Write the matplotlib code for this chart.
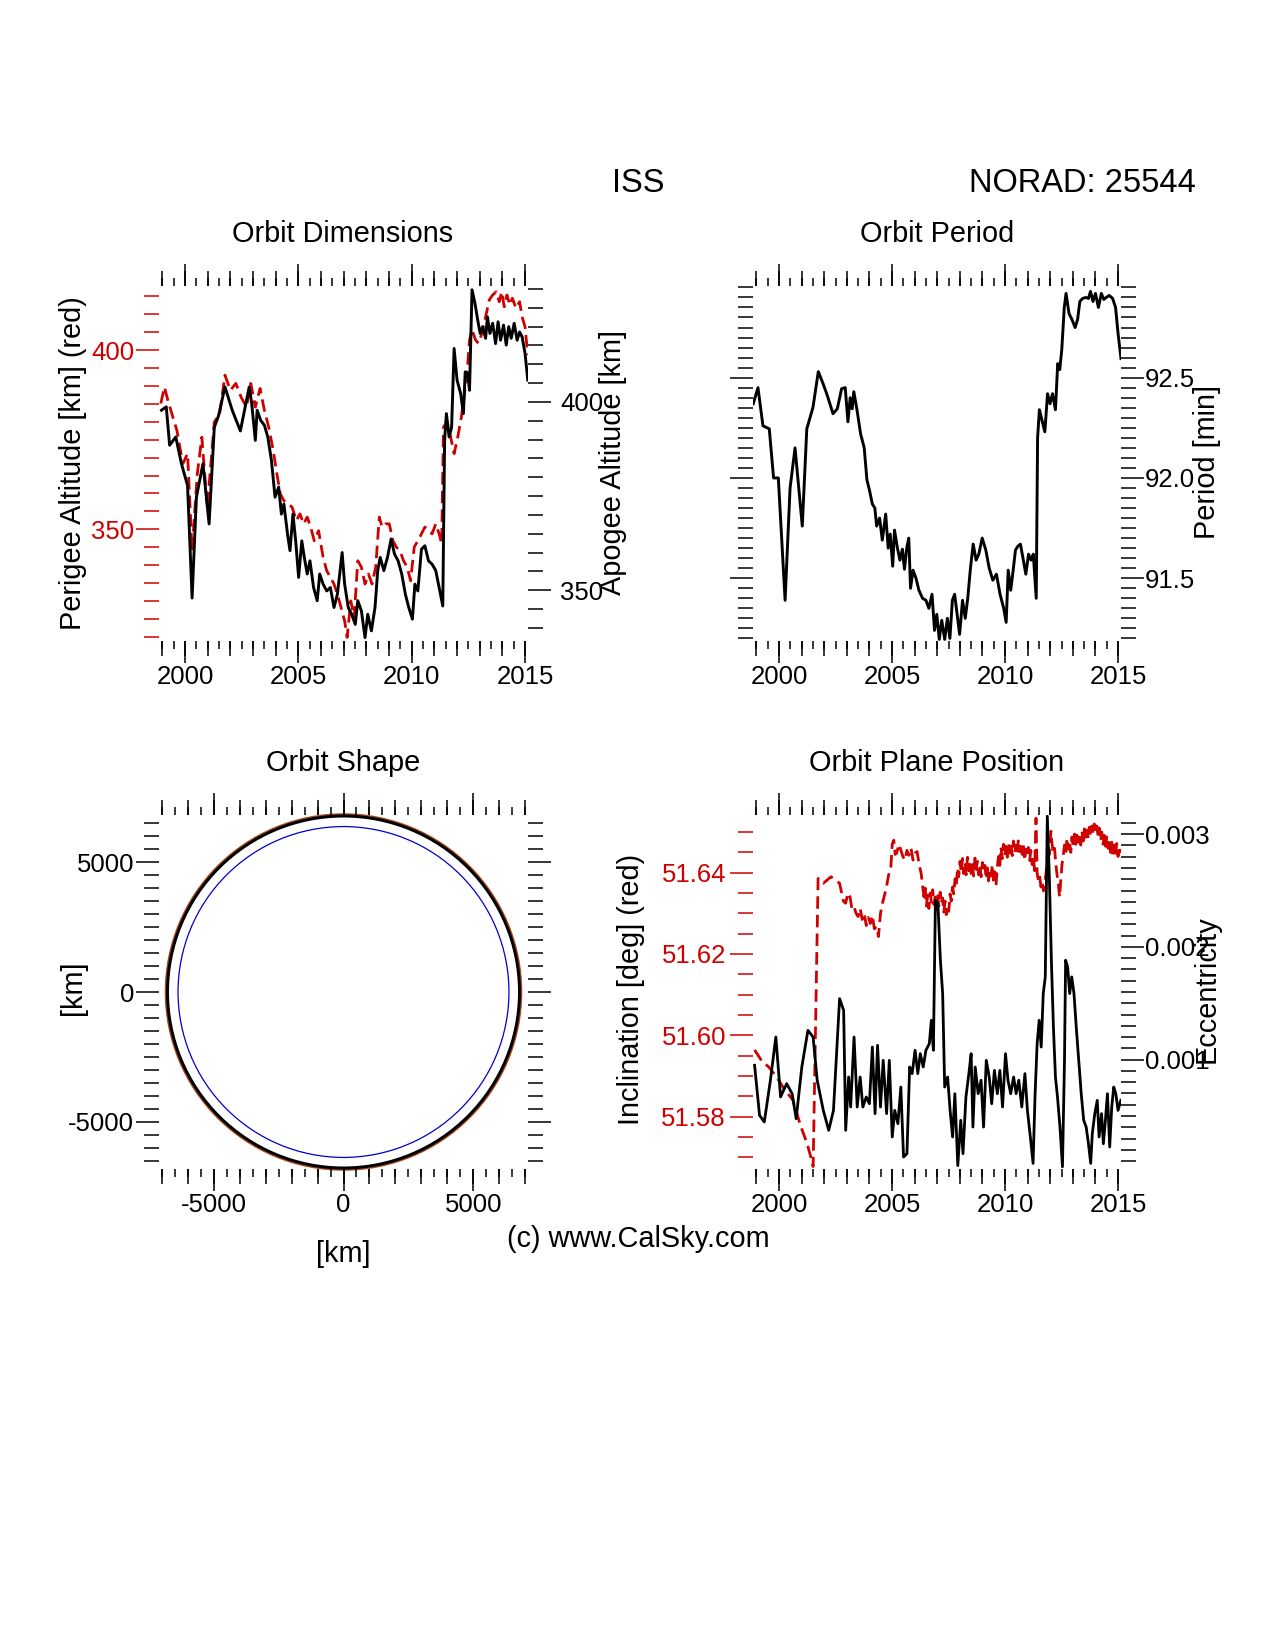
import matplotlib
matplotlib.use('Agg')
import matplotlib.pyplot as plt
from matplotlib.ticker import MultipleLocator, FormatStrFormatter, NullFormatter
from matplotlib.patches import Circle

plt.rcParams['font.family'] = ['Liberation Sans', 'DejaVu Sans']

RED = '#d00000'

# ---- orbit dimensions: (year, km)
perigee = [(1998.93, 385.1), (1999.09, 389.7), (1999.24, 386.0), (1999.48, 380.9), (1999.64, 377.6),
           (1999.90, 368.3), (2000.11, 371.1), (2000.31, 344.0), (2000.54, 365.5), (2000.74, 375.7),
           (2000.98, 356.2), (2001.29, 379.9), (2001.53, 382.3), (2001.76, 393.0), (2002.00, 388.8),
           (2002.24, 390.7), (2002.47, 386.9), (2002.71, 384.1), (2002.90, 390.7), (2003.10, 384.1),
           (2003.31, 389.3), (2003.50, 383.2), (2003.69, 378.5), (2003.89, 372.0), (2004.05, 365.5),
           (2004.20, 359.9), (2004.36, 358.0), (2004.52, 357.1), (2004.72, 356.2), (2004.91, 352.4),
           (2005.07, 354.3), (2005.23, 351.5), (2005.39, 353.4), (2005.54, 350.6), (2005.70, 346.8),
           (2005.89, 349.6), (2006.09, 342.2), (2006.25, 338.4), (2006.41, 336.6), (2006.57, 334.7),
           (2006.72, 331.9), (2006.88, 328.2), (2007.04, 324.4), (2007.15, 319.8), (2007.31, 330.0),
           (2007.46, 325.4), (2007.62, 341.2), (2007.78, 339.4), (2007.94, 334.7), (2008.09, 337.5),
           (2008.25, 334.7), (2008.41, 339.4), (2008.57, 353.4), (2008.69, 350.6), (2008.85, 351.5),
           (2009.01, 351.5), (2009.17, 346.8), (2009.32, 345.0), (2009.48, 344.0), (2009.64, 341.2),
           (2009.80, 339.4), (2009.95, 335.6), (2010.11, 345.0), (2010.27, 346.8), (2010.43, 348.7),
           (2010.58, 350.6), (2010.74, 349.6), (2010.90, 348.7), (2011.06, 351.5), (2011.21, 348.7),
           (2011.32, 345.9), (2011.40, 378.5), (2011.56, 379.9), (2011.72, 375.7), (2011.87, 371.1),
           (2012.03, 375.7), (2012.19, 381.3), (2012.31, 386.9), (2012.44, 393.5), (2012.55, 402.8),
           (2012.66, 405.6), (2012.82, 402.8), (2012.94, 401.9), (2013.10, 404.7), (2013.26, 409.3),
           (2013.42, 414.0), (2013.57, 415.4), (2013.73, 416.3), (2013.86, 413.5), (2013.97, 416.3),
           (2014.08, 412.1), (2014.20, 415.4), (2014.33, 412.6), (2014.44, 414.5), (2014.60, 411.7),
           (2014.76, 413.5), (2014.87, 409.3), (2015.00, 406.5), (2015.12, 398.6)]

apogee = [(1998.96, 397.8), (1999.17, 398.7), (1999.32, 388.5), (1999.59, 390.7), (1999.84, 383.6),
          (2000.11, 377.8), (2000.31, 347.9), (2000.50, 374.7), (2000.79, 383.6), (2001.06, 367.6),
          (2001.29, 393.3), (2001.48, 396.4), (2001.76, 404.0), (2002.08, 397.8), (2002.44, 392.3),
          (2002.83, 404.0), (2002.94, 399.6), (2003.10, 389.8), (2003.18, 397.8), (2003.34, 395.1),
          (2003.50, 393.8), (2003.65, 390.7), (2003.81, 384.5), (2003.97, 374.7), (2004.13, 377.4),
          (2004.25, 370.2), (2004.36, 372.9), (2004.52, 364.9), (2004.63, 360.5), (2004.76, 370.2),
          (2004.88, 363.1), (2005.01, 353.4), (2005.15, 363.1), (2005.26, 358.7), (2005.39, 354.3),
          (2005.51, 357.8), (2005.67, 350.7), (2005.83, 347.2), (2005.94, 354.3), (2006.09, 351.6),
          (2006.25, 349.8), (2006.41, 350.7), (2006.57, 345.4), (2006.72, 348.9), (2006.93, 360.0),
          (2007.04, 351.6), (2007.20, 345.4), (2007.35, 343.6), (2007.51, 340.9), (2007.62, 347.2),
          (2007.78, 344.5), (2007.94, 337.4), (2008.06, 343.6), (2008.22, 339.2), (2008.38, 345.4),
          (2008.50, 355.2), (2008.61, 358.7), (2008.77, 355.2), (2008.93, 358.7), (2009.09, 363.6),
          (2009.24, 359.6), (2009.40, 357.8), (2009.56, 354.3), (2009.72, 348.9), (2009.87, 345.4),
          (2010.03, 342.3), (2010.14, 351.6), (2010.27, 349.8), (2010.43, 360.9), (2010.58, 361.8),
          (2010.74, 357.8), (2010.90, 356.9), (2011.06, 355.2), (2011.21, 350.7), (2011.37, 345.8),
          (2011.45, 389.8), (2011.53, 396.9), (2011.65, 390.7), (2011.76, 393.3), (2011.87, 414.2),
          (2012.00, 405.8), (2012.16, 402.2), (2012.28, 396.9), (2012.36, 408.0), (2012.47, 407.5),
          (2012.55, 403.1), (2012.66, 429.8), (2012.79, 426.2), (2012.91, 421.8), (2013.02, 418.2),
          (2013.13, 420.0), (2013.26, 416.9), (2013.34, 422.6), (2013.45, 418.2), (2013.57, 420.9),
          (2013.70, 415.5), (2013.81, 421.3), (2013.92, 416.4), (2014.05, 420.4), (2014.17, 415.1),
          (2014.28, 420.0), (2014.39, 416.9), (2014.52, 420.9), (2014.65, 416.4), (2014.76, 418.6),
          (2014.87, 417.3), (2015.00, 412.9), (2015.12, 405.8)]

# ---- orbit period: (year, min)
period = [(1998.86, 92.37), (1999.07, 92.45), (1999.29, 92.26), (1999.57, 92.245), (1999.76, 92.00),
          (1999.97, 92.00), (2000.27, 91.39), (2000.49, 91.95), (2000.71, 92.15), (2001.03, 91.76),
          (2001.23, 92.245), (2001.50, 92.35), (2001.74, 92.53), (2001.95, 92.47), (2002.14, 92.41),
          (2002.39, 92.32), (2002.58, 92.345), (2002.77, 92.445), (2002.93, 92.45), (2003.05, 92.28),
          (2003.15, 92.40), (2003.24, 92.345), (2003.31, 92.43), (2003.45, 92.34), (2003.61, 92.22),
          (2003.77, 92.15), (2003.89, 91.99), (2004.00, 91.94), (2004.13, 91.87), (2004.24, 91.85),
          (2004.32, 91.76), (2004.45, 91.80), (2004.57, 91.69), (2004.72, 91.82), (2004.83, 91.65),
          (2004.92, 91.72), (2005.03, 91.56), (2005.11, 91.74), (2005.24, 91.65), (2005.35, 91.59),
          (2005.46, 91.645), (2005.55, 91.545), (2005.65, 91.65), (2005.74, 91.70), (2005.82, 91.45),
          (2005.93, 91.54), (2006.06, 91.50), (2006.19, 91.44), (2006.35, 91.40), (2006.50, 91.39),
          (2006.63, 91.35), (2006.77, 91.42), (2006.88, 91.24), (2006.98, 91.32), (2007.09, 91.195),
          (2007.20, 91.29), (2007.33, 91.195), (2007.45, 91.30), (2007.56, 91.20), (2007.67, 91.39),
          (2007.77, 91.42), (2007.88, 91.32), (2007.99, 91.22), (2008.12, 91.39), (2008.24, 91.30),
          (2008.35, 91.40), (2008.47, 91.55), (2008.59, 91.67), (2008.72, 91.59), (2008.84, 91.62),
          (2008.99, 91.70), (2009.15, 91.64), (2009.30, 91.55), (2009.46, 91.49), (2009.62, 91.52),
          (2009.78, 91.42), (2009.94, 91.35), (2010.05, 91.28), (2010.14, 91.54), (2010.25, 91.44),
          (2010.36, 91.54), (2010.46, 91.64), (2010.57, 91.66), (2010.68, 91.67), (2010.81, 91.59),
          (2010.92, 91.52), (2011.04, 91.62), (2011.15, 91.59), (2011.25, 91.62), (2011.38, 91.40),
          (2011.44, 92.20), (2011.52, 92.34), (2011.63, 92.29), (2011.76, 92.23), (2011.88, 92.42),
          (2011.99, 92.37), (2012.10, 92.42), (2012.23, 92.34), (2012.33, 92.57), (2012.42, 92.54),
          (2012.51, 92.64), (2012.62, 92.85), (2012.70, 92.92), (2012.83, 92.82), (2012.96, 92.79),
          (2013.10, 92.75), (2013.21, 92.79), (2013.31, 92.88), (2013.43, 92.895), (2013.58, 92.90),
          (2013.69, 92.895), (2013.78, 92.93), (2013.89, 92.88), (2014.00, 92.92), (2014.13, 92.85),
          (2014.26, 92.92), (2014.37, 92.89), (2014.48, 92.90), (2014.61, 92.91), (2014.76, 92.895),
          (2014.89, 92.85), (2015.00, 92.72), (2015.13, 92.595)]

# ---- orbit plane: inclination (year, deg) and eccentricity (year, -)
inclination = [(1998.92, 51.5964), (1999.26, 51.5935), (1999.53, 51.5923), (1999.89, 51.5898),
               (2000.25, 51.5866), (2000.61, 51.5841), (2000.97, 51.5775), (2001.24, 51.5734),
               (2001.42, 51.5698), (2001.51, 51.5677), (2001.73, 51.6386), (2001.96, 51.6374),
               (2002.30, 51.6390), (2002.68, 51.6374), (2002.85, 51.6330), (2002.95, 51.6325),
               (2003.05, 51.6350), (2003.14, 51.6341), (2003.23, 51.6310), (2003.32, 51.6316),
               (2003.41, 51.6300), (2003.50, 51.6292), (2003.59, 51.6312), (2003.68, 51.6285),
               (2003.77, 51.6300), (2003.86, 51.6270), (2003.95, 51.6290), (2004.04, 51.6275),
               (2004.13, 51.6295), (2004.22, 51.6262), (2004.31, 51.6267), (2004.40, 51.6243),
               (2004.49, 51.6300), (2004.58, 51.6325), (2004.67, 51.6345), (2004.76, 51.6366),
               (2004.85, 51.6395), (2004.94, 51.6407), (2005.01, 51.6470), (2005.08, 51.6480),
               (2005.14, 51.6445), (2005.21, 51.6448), (2005.30, 51.6470), (2005.39, 51.6456),
               (2005.48, 51.6440), (2005.57, 51.6431), (2005.66, 51.6455), (2005.75, 51.6443),
               (2005.84, 51.6460), (2005.93, 51.6431), (2006.02, 51.6448), (2006.11, 51.6452),
               (2006.20, 51.6420), (2006.29, 51.6398), (2006.35, 51.6370), (2006.41, 51.6341),
               (2006.47, 51.6362), (2006.52, 51.6318), (2006.58, 51.6345), (2006.63, 51.6312),
               (2006.69, 51.6350), (2006.74, 51.6328), (2006.80, 51.6358), (2006.85, 51.6322),
               (2006.91, 51.6340), (2006.96, 51.6309), (2007.02, 51.6346), (2007.07, 51.6318),
               (2007.13, 51.6352), (2007.18, 51.6325), (2007.24, 51.6338), (2007.29, 51.6303),
               (2007.35, 51.6330), (2007.40, 51.6297), (2007.46, 51.6320), (2007.51, 51.6305),
               (2007.57, 51.6348), (2007.62, 51.6330), (2007.68, 51.6365), (2007.73, 51.6348),
               (2007.79, 51.6385), (2007.84, 51.6366), (2007.90, 51.6412), (2007.95, 51.6390),
               (2008.01, 51.6428), (2008.06, 51.6401), (2008.12, 51.6435), (2008.17, 51.6398),
               (2008.23, 51.6425), (2008.28, 51.6395), (2008.34, 51.6438), (2008.39, 51.6405),
               (2008.45, 51.6430), (2008.50, 51.6398), (2008.56, 51.6420), (2008.61, 51.6392),
               (2008.67, 51.6436), (2008.72, 51.6408), (2008.78, 51.6428), (2008.83, 51.6395),
               (2008.89, 51.6419), (2008.94, 51.6390), (2009.00, 51.6425), (2009.05, 51.6402),
               (2009.11, 51.6418), (2009.16, 51.6385), (2009.22, 51.6412), (2009.27, 51.6380),
               (2009.33, 51.6408), (2009.38, 51.6392), (2009.44, 51.6420), (2009.49, 51.6378),
               (2009.55, 51.6402), (2009.60, 51.6368), (2009.66, 51.6415), (2009.71, 51.6440),
               (2009.77, 51.6418), (2009.82, 51.6462), (2009.88, 51.6435), (2009.93, 51.6470),
               (2009.99, 51.6442), (2010.04, 51.6465), (2010.10, 51.6438), (2010.15, 51.6475),
               (2010.21, 51.6448), (2010.26, 51.6470), (2010.32, 51.6442), (2010.37, 51.6478),
               (2010.43, 51.6450), (2010.48, 51.6468), (2010.54, 51.6445), (2010.59, 51.6482),
               (2010.65, 51.6452), (2010.70, 51.6474), (2010.76, 51.6445), (2010.81, 51.6468),
               (2010.87, 51.6430), (2010.92, 51.6458), (2010.98, 51.6440), (2011.03, 51.6462),
               (2011.09, 51.6430), (2011.14, 51.6455), (2011.20, 51.6420), (2011.25, 51.6440),
               (2011.31, 51.6405), (2011.37, 51.6534), (2011.42, 51.6398), (2011.48, 51.6380),
               (2011.53, 51.6392), (2011.59, 51.6365), (2011.64, 51.6378), (2011.70, 51.6355),
               (2011.75, 51.6372), (2011.81, 51.6398), (2011.86, 51.6420), (2011.92, 51.6468),
               (2011.97, 51.6445), (2012.03, 51.6502), (2012.08, 51.6470), (2012.14, 51.6448),
               (2012.19, 51.6460), (2012.25, 51.6420), (2012.30, 51.6395), (2012.36, 51.6372),
               (2012.41, 51.6340), (2012.47, 51.6385), (2012.52, 51.6420), (2012.58, 51.6445),
               (2012.63, 51.6468), (2012.69, 51.6448), (2012.74, 51.6485), (2012.80, 51.6458),
               (2012.85, 51.6478), (2012.91, 51.6450), (2012.96, 51.6488), (2013.02, 51.6462),
               (2013.07, 51.6495), (2013.13, 51.6470), (2013.18, 51.6500), (2013.24, 51.6475),
               (2013.29, 51.6492), (2013.35, 51.6468), (2013.40, 51.6502), (2013.46, 51.6478),
               (2013.51, 51.6508), (2013.57, 51.6482), (2013.62, 51.6505), (2013.68, 51.6485),
               (2013.73, 51.6512), (2013.79, 51.6490), (2013.84, 51.6515), (2013.90, 51.6495),
               (2013.95, 51.6520), (2014.01, 51.6498), (2014.06, 51.6515), (2014.12, 51.6488),
               (2014.17, 51.6510), (2014.23, 51.6478), (2014.28, 51.6500), (2014.34, 51.6470),
               (2014.39, 51.6492), (2014.45, 51.6465), (2014.50, 51.6488), (2014.56, 51.6460),
               (2014.61, 51.6482), (2014.67, 51.6450), (2014.72, 51.6475), (2014.78, 51.6438),
               (2014.83, 51.6468), (2014.89, 51.6445), (2014.94, 51.6472), (2015.00, 51.6440),
               (2015.06, 51.6465), (2015.12, 51.6448)]

eccentricity = [(1998.92, 0.000950), (1999.14, 0.000506), (1999.35, 0.000447), (1999.62, 0.000817),
                (1999.86, 0.001201), (2000.07, 0.000669), (2000.34, 0.000787), (2000.58, 0.000698),
                (2000.76, 0.000476), (2001.01, 0.000935), (2001.28, 0.001260), (2001.51, 0.001201),
                (2001.69, 0.000817), (2001.96, 0.000550), (2002.20, 0.000373), (2002.41, 0.000550),
                (2002.68, 0.001541), (2002.86, 0.001438), (2002.95, 0.000373), (2003.08, 0.000846),
                (2003.17, 0.000580), (2003.32, 0.001201), (2003.46, 0.000580), (2003.59, 0.000846),
                (2003.71, 0.000580), (2003.86, 0.000669), (2004.00, 0.000609), (2004.13, 0.001112),
                (2004.25, 0.000521), (2004.36, 0.001127), (2004.49, 0.000580), (2004.61, 0.000994),
                (2004.76, 0.000521), (2004.88, 0.000994), (2005.01, 0.000314), (2005.12, 0.000550),
                (2005.26, 0.000432), (2005.39, 0.000757), (2005.51, 0.000136), (2005.66, 0.000166),
                (2005.78, 0.000935), (2005.89, 0.000876), (2006.02, 0.001083), (2006.14, 0.000876),
                (2006.25, 0.001053), (2006.38, 0.000935), (2006.50, 0.001083), (2006.65, 0.001142),
                (2006.74, 0.001349), (2006.83, 0.001083), (2006.92, 0.002414), (2007.03, 0.002385),
                (2007.14, 0.001882), (2007.24, 0.001586), (2007.33, 0.000757), (2007.46, 0.000846),
                (2007.57, 0.000550), (2007.68, 0.000314), (2007.78, 0.000698), (2007.91, 0.000060),
                (2008.04, 0.000462), (2008.14, 0.000166), (2008.27, 0.000669), (2008.40, 0.000876),
                (2008.50, 0.001053), (2008.58, 0.000402), (2008.68, 0.000935), (2008.81, 0.000698),
                (2008.94, 0.000817), (2009.05, 0.000402), (2009.17, 0.000994), (2009.30, 0.000846),
                (2009.41, 0.000609), (2009.53, 0.000905), (2009.66, 0.000698), (2009.77, 0.000905),
                (2009.89, 0.000580), (2010.02, 0.001053), (2010.13, 0.000817), (2010.25, 0.000698),
                (2010.38, 0.000846), (2010.49, 0.000698), (2010.61, 0.000817), (2010.74, 0.000580),
                (2010.88, 0.000876), (2010.99, 0.000550), (2011.12, 0.000314), (2011.24, 0.000080),
                (2011.33, 0.000698), (2011.42, 0.001142), (2011.51, 0.001349), (2011.60, 0.001112),
                (2011.69, 0.001586), (2011.78, 0.001734), (2011.87, 0.003160), (2011.96, 0.002621),
                (2012.05, 0.001882), (2012.14, 0.001290), (2012.23, 0.000846), (2012.32, 0.000669),
                (2012.43, 0.000402), (2012.54, 0.000050), (2012.63, 0.000994), (2012.68, 0.001882),
                (2012.77, 0.001822), (2012.86, 0.001586), (2012.95, 0.001734), (2013.05, 0.001586),
                (2013.15, 0.001290), (2013.26, 0.000994), (2013.37, 0.000698), (2013.48, 0.000462),
                (2013.59, 0.000402), (2013.69, 0.000254), (2013.79, 0.000080), (2013.86, 0.000343),
                (2013.97, 0.000521), (2014.08, 0.000639), (2014.16, 0.000314), (2014.27, 0.000521),
                (2014.35, 0.000254), (2014.44, 0.000462), (2014.53, 0.000698), (2014.63, 0.000225),
                (2014.72, 0.000580), (2014.81, 0.000757), (2014.90, 0.000698), (2015.00, 0.000550),
                (2015.12, 0.000639)]

# ---- orbit shape (km)
earth_radius = 6378.0
orbit_radius = 6786.0
apogee_radius = 6860.0

W, H = 1275.0, 1650.0
fig = plt.figure(figsize=(12.75, 16.5), dpi=100)


def box(x0, y0, x1, y1):
    return [x0 / W, 1 - y1 / H, (x1 - x0) / W, (y1 - y0) / H]


def pt(px):
    return px * 0.72


def no_spines(ax):
    for s in ax.spines.values():
        s.set_visible(False)


def x_ticks(ax, major, mid, minor, fmt, labels=True):
    ax.xaxis.set_major_locator(MultipleLocator(major))
    ax.xaxis.set_minor_locator(MultipleLocator(minor))
    ax.xaxis.set_major_formatter(FormatStrFormatter(fmt))
    ax.tick_params(axis='x', which='both', direction='out', top=True, bottom=True,
                   width=1.1, labelbottom=labels, labeltop=False)
    ax.tick_params(axis='x', which='major', length=pt(22), labelsize=18.5, pad=pt(2))
    ax.tick_params(axis='x', which='minor', length=pt(8))
    for loc in ['top', 'bottom']:
        sec = ax.secondary_xaxis(loc)
        sec.xaxis.set_major_locator(MultipleLocator(mid))
        sec.xaxis.set_major_formatter(NullFormatter())
        sec.tick_params(axis='x', direction='out', length=pt(15), width=1.1)
        no_spines(sec)


def y_ticks(ax, major, minor, fmt, color='black', pad=2):
    ax.yaxis.set_major_locator(MultipleLocator(major))
    ax.yaxis.set_minor_locator(MultipleLocator(minor))
    ax.yaxis.set_major_formatter(FormatStrFormatter(fmt))
    ax.tick_params(axis='y', which='both', direction='out', width=1.1, color=color,
                   labelcolor=color, labelsize=18.5, pad=pt(pad))
    ax.tick_params(axis='y', which='major', length=pt(23))
    ax.tick_params(axis='y', which='minor', length=pt(15))


xlim_years = (1998.85, 2015.13)
dash = (0, (4.5, 2.2))

# ---------- Orbit Dimensions
ax = fig.add_axes(box(159, 286, 528, 641))
py, pk = zip(*perigee)
ax.plot(py, pk, color=RED, lw=2.0, linestyle=dash)
ax.set_xlim(*xlim_years)
ax.set_ylim(318.8, 417.9)
x_ticks(ax, 5, 1, 0.5, '%d')
y_ticks(ax, 50, 5, '%d', color=RED, pad=2)
no_spines(ax)
ax2 = ax.twinx()
ay, ak = zip(*apogee)
ax2.plot(ay, ak, color='black', lw=2.1)
ax2.set_ylim(336.5, 430.8)
y_ticks(ax2, 50, 5, '%d', pad=9)
no_spines(ax2)

# ---------- Orbit Period
ax = fig.add_axes(box(753, 286, 1121, 641))
ty, tm = zip(*period)
ax.plot(ty, tm, color='black', lw=2.1)
ax.set_xlim(*xlim_years)
ax.set_ylim(91.187, 92.957)
x_ticks(ax, 5, 1, 0.5, '%d')
y_ticks(ax, 0.5, 0.05, '%.1f', pad=0.5)
ax.yaxis.set_ticks_position('both')
ax.tick_params(axis='y', labelleft=False, labelright=True)
no_spines(ax)

# ---------- Orbit Shape
ax = fig.add_axes(box(159, 815, 528, 1169))
ax.add_patch(Circle((0, 0), earth_radius, fill=False, color='#0000cc', lw=0.9))
ax.add_patch(Circle((0, 0), apogee_radius, fill=False, color='#b04a1c', lw=1.2, clip_on=False))
ax.add_patch(Circle((0, 0), orbit_radius, fill=False, color='black', lw=2.2, clip_on=False))
ax.set_xlim(-7112, 7112)
ax.set_ylim(-6824, 6824)
x_ticks(ax, 5000, 1000, 500, '%d')
y_ticks(ax, 5000, 500, '%d', pad=2)
ax.yaxis.set_ticks_position('both')
ax.tick_params(axis='y', labelleft=True, labelright=False)
no_spines(ax)

# ---------- Orbit Plane Position
ax = fig.add_axes(box(753, 815, 1121, 1169))
iy, ideg = zip(*inclination)
ax.plot(iy, ideg, color=RED, lw=2.0, linestyle=dash)
ax.set_xlim(*xlim_years)
ax.set_ylim(51.5671, 51.6542)
x_ticks(ax, 5, 1, 0.5, '%d')
y_ticks(ax, 0.02, 0.005, '%.2f', color=RED, pad=4)
no_spines(ax)
ax2 = ax.twinx()
ey, ev = zip(*eccentricity)
ax2.plot(ey, ev, color='black', lw=2.0)
ax2.set_ylim(0.00003, 0.00317)
y_ticks(ax2, 0.001, 0.0001, '%.3f', pad=0.5)
no_spines(ax2)

# ---------- texts
fs_title = 20.8
fig.text(638 / W, 1 - 184 / H, 'ISS', fontsize=23.5, ha='center', va='center')
fig.text(1196 / W, 1 - 184 / H, 'NORAD: 25544', fontsize=23.5, ha='right', va='center')
fig.text(343 / W, 1 - 234 / H, 'Orbit Dimensions', fontsize=fs_title, ha='center', va='center')
fig.text(937 / W, 1 - 234 / H, 'Orbit Period', fontsize=fs_title, ha='center', va='center')
fig.text(343 / W, 1 - 763 / H, 'Orbit Shape', fontsize=fs_title, ha='center', va='center')
fig.text(937 / W, 1 - 763 / H, 'Orbit Plane Position', fontsize=fs_title, ha='center', va='center')

fig.text(73 / W, 1 - 463 / H, 'Perigee Altitude [km] (red)', fontsize=fs_title, rotation=90,
         ha='center', va='center')
fig.text(613 / W, 1 - 463 / H, 'Apogee Altitude [km]', fontsize=fs_title, rotation=90,
         ha='center', va='center')
fig.text(1207 / W, 1 - 462 / H, 'Period [min]', fontsize=fs_title, rotation=90,
         ha='center', va='center')
fig.text(73 / W, 1 - 988 / H, '[km]', fontsize=fs_title, rotation=90, ha='center', va='center')
fig.text(343 / W, 1 - 1254 / H, '[km]', fontsize=fs_title, ha='center', va='center')
fig.text(631 / W, 1 - 989 / H, 'Inclination [deg] (red)', fontsize=fs_title, rotation=90,
         ha='center', va='center')
fig.text(1207 / W, 1 - 989 / H, 'Eccentricity', fontsize=fs_title, rotation=90,
         ha='center', va='center')
fig.text(638 / W, 1 - 1239 / H, '(c) www.CalSky.com', fontsize=fs_title, ha='center', va='center')

fig.savefig('out.png', dpi=100, facecolor='white')
